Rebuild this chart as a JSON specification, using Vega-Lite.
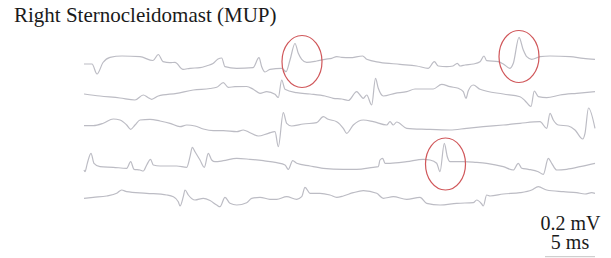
{
  "$schema": "https://vega.github.io/schema/vega-lite/v6.json",
  "width": 611,
  "height": 258,
  "padding": 0,
  "autosize": {"type": "none"},
  "background": "white",
  "config": {"view": {"stroke": null}},
  "datasets": {
    "traces": [
      {"trace":1,"x":84,"y":64},{"trace":1,"x":92,"y":64},{"trace":1,"x":97,"y":74},{"trace":1,"x":103,"y":62.5},{"trace":1,"x":110,"y":57.3},{"trace":1,"x":122,"y":56},{"trace":1,"x":140,"y":56.7},{"trace":1,"x":153,"y":60.5},{"trace":1,"x":158.3,"y":54.5},{"trace":1,"x":163,"y":61.7},{"trace":1,"x":170,"y":62.7},{"trace":1,"x":175,"y":62.3},{"trace":1,"x":183,"y":69.3},{"trace":1,"x":190,"y":68.3},{"trace":1,"x":200,"y":67.7},{"trace":1,"x":207,"y":65.7},{"trace":1,"x":213,"y":63.5},{"trace":1,"x":218,"y":59},{"trace":1,"x":221.7,"y":58},{"trace":1,"x":225,"y":66.7},{"trace":1,"x":236.7,"y":68.3},{"trace":1,"x":253,"y":67.7},{"trace":1,"x":259,"y":57.7},{"trace":1,"x":261.7,"y":66.7},{"trace":1,"x":265,"y":72},{"trace":1,"x":270,"y":69.3},{"trace":1,"x":281.7,"y":68.3},{"trace":1,"x":286,"y":71.7},{"trace":1,"x":290,"y":60},{"trace":1,"x":295,"y":43.5},{"trace":1,"x":298.3,"y":53.3},{"trace":1,"x":301.7,"y":59.3},{"trace":1,"x":306.7,"y":62.3},{"trace":1,"x":316.7,"y":61},{"trace":1,"x":325,"y":59.3},{"trace":1,"x":331.7,"y":58.3},{"trace":1,"x":336.7,"y":56.7},{"trace":1,"x":341.7,"y":57.3},{"trace":1,"x":350,"y":57.7},{"trace":1,"x":362.7,"y":56},{"trace":1,"x":366.7,"y":59.3},{"trace":1,"x":380,"y":62.3},{"trace":1,"x":400,"y":64.3},{"trace":1,"x":416.7,"y":66},{"trace":1,"x":428.3,"y":68.3},{"trace":1,"x":434.3,"y":61.7},{"trace":1,"x":438.3,"y":66},{"trace":1,"x":446.7,"y":66.7},{"trace":1,"x":453,"y":66},{"trace":1,"x":457.3,"y":63.3},{"trace":1,"x":460,"y":66},{"trace":1,"x":465,"y":65},{"trace":1,"x":473.3,"y":64},{"trace":1,"x":480,"y":61.7},{"trace":1,"x":484,"y":56},{"trace":1,"x":486.7,"y":60.7},{"trace":1,"x":498.3,"y":61.7},{"trace":1,"x":503.3,"y":64},{"trace":1,"x":510,"y":68.3},{"trace":1,"x":513.3,"y":63.3},{"trace":1,"x":519,"y":37.3},{"trace":1,"x":523.3,"y":50},{"trace":1,"x":526.7,"y":56.7},{"trace":1,"x":531.7,"y":59.3},{"trace":1,"x":540,"y":56.7},{"trace":1,"x":550,"y":56},{"trace":1,"x":570,"y":56.7},{"trace":1,"x":583.3,"y":58.3},{"trace":1,"x":595,"y":59.3},

      {"trace":2,"x":84,"y":94},{"trace":2,"x":100,"y":96},{"trace":2,"x":120,"y":98},{"trace":2,"x":135,"y":100},{"trace":2,"x":143.3,"y":95},{"trace":2,"x":148.3,"y":97.7},{"trace":2,"x":151.7,"y":99.3},{"trace":2,"x":158.3,"y":96},{"trace":2,"x":176.7,"y":93.3},{"trace":2,"x":193.3,"y":90},{"trace":2,"x":210,"y":88.5},{"trace":2,"x":216.7,"y":87.3},{"trace":2,"x":223.3,"y":82.7},{"trace":2,"x":228.3,"y":87.3},{"trace":2,"x":235,"y":86.7},{"trace":2,"x":246.7,"y":86.5},{"trace":2,"x":253.3,"y":89.3},{"trace":2,"x":260,"y":93.3},{"trace":2,"x":266.7,"y":91.7},{"trace":2,"x":275,"y":94.3},{"trace":2,"x":278.3,"y":97.5},{"trace":2,"x":281.7,"y":80},{"trace":2,"x":285,"y":89.3},{"trace":2,"x":296.7,"y":92.7},{"trace":2,"x":310,"y":94},{"trace":2,"x":325,"y":96},{"trace":2,"x":333.3,"y":98.3},{"trace":2,"x":341.7,"y":99},{"trace":2,"x":348.3,"y":100.5},{"trace":2,"x":356.7,"y":91.7},{"trace":2,"x":360,"y":95},{"trace":2,"x":363.3,"y":98.3},{"trace":2,"x":366.7,"y":95},{"trace":2,"x":371.7,"y":105},{"trace":2,"x":375.5,"y":78.3},{"trace":2,"x":378.3,"y":88.3},{"trace":2,"x":383.3,"y":96},{"trace":2,"x":395,"y":93.3},{"trace":2,"x":406.7,"y":91.7},{"trace":2,"x":415,"y":89},{"trace":2,"x":433.3,"y":89},{"trace":2,"x":441.7,"y":84.3},{"trace":2,"x":450,"y":86.7},{"trace":2,"x":458.3,"y":88.3},{"trace":2,"x":463.3,"y":91.7},{"trace":2,"x":466,"y":98.3},{"trace":2,"x":468.3,"y":90.7},{"trace":2,"x":473.3,"y":85},{"trace":2,"x":480,"y":89.3},{"trace":2,"x":503.3,"y":94},{"trace":2,"x":520,"y":96.7},{"trace":2,"x":525,"y":100.7},{"trace":2,"x":531,"y":106.5},{"trace":2,"x":534.3,"y":91},{"trace":2,"x":538.3,"y":96.7},{"trace":2,"x":546.7,"y":97.7},{"trace":2,"x":560,"y":95},{"trace":2,"x":576.7,"y":93.3},{"trace":2,"x":595,"y":91.7},

      {"trace":3,"x":84,"y":125.7},{"trace":3,"x":93.3,"y":125.7},{"trace":3,"x":103.3,"y":123.3},{"trace":3,"x":113.3,"y":119},{"trace":3,"x":120,"y":120},{"trace":3,"x":126.7,"y":125},{"trace":3,"x":130.7,"y":129.3},{"trace":3,"x":135,"y":125},{"trace":3,"x":140,"y":120},{"trace":3,"x":150,"y":119.3},{"trace":3,"x":160,"y":121},{"trace":3,"x":170,"y":123.3},{"trace":3,"x":180,"y":126.7},{"trace":3,"x":186.7,"y":125},{"trace":3,"x":195,"y":126},{"trace":3,"x":203.3,"y":129},{"trace":3,"x":213.3,"y":130.7},{"trace":3,"x":223.3,"y":130.7},{"trace":3,"x":236.7,"y":131.7},{"trace":3,"x":243.3,"y":130},{"trace":3,"x":250,"y":132.7},{"trace":3,"x":258.3,"y":136},{"trace":3,"x":268.3,"y":133.3},{"trace":3,"x":275,"y":131.7},{"trace":3,"x":278.3,"y":146.7},{"trace":3,"x":283.3,"y":112.7},{"trace":3,"x":286.7,"y":123.3},{"trace":3,"x":291.7,"y":126},{"trace":3,"x":303.3,"y":124},{"trace":3,"x":316.7,"y":122.7},{"trace":3,"x":323.3,"y":116.7},{"trace":3,"x":328.3,"y":119.3},{"trace":3,"x":336.7,"y":121.7},{"trace":3,"x":343.3,"y":128.3},{"trace":3,"x":346.7,"y":133.3},{"trace":3,"x":353.3,"y":125},{"trace":3,"x":363.3,"y":120},{"trace":3,"x":373.3,"y":121.7},{"trace":3,"x":386.7,"y":125},{"trace":3,"x":390,"y":121.7},{"trace":3,"x":393.3,"y":125},{"trace":3,"x":396.7,"y":122},{"trace":3,"x":406.7,"y":128.3},{"trace":3,"x":426.7,"y":129.3},{"trace":3,"x":450,"y":130},{"trace":3,"x":466.7,"y":128.3},{"trace":3,"x":483.3,"y":126.7},{"trace":3,"x":503.3,"y":125},{"trace":3,"x":520,"y":123.3},{"trace":3,"x":540,"y":121.7},{"trace":3,"x":546.7,"y":128.3},{"trace":3,"x":550,"y":113.3},{"trace":3,"x":553.3,"y":120},{"trace":3,"x":558.3,"y":125},{"trace":3,"x":568.3,"y":126},{"trace":3,"x":575,"y":130},{"trace":3,"x":582.7,"y":139},{"trace":3,"x":585,"y":133.3},{"trace":3,"x":588.5,"y":108},{"trace":3,"x":595,"y":128.3},

      {"trace":4,"x":84,"y":170},{"trace":4,"x":85,"y":171.7},{"trace":4,"x":87.3,"y":163.3},{"trace":4,"x":91,"y":153.3},{"trace":4,"x":94,"y":163.3},{"trace":4,"x":100,"y":166.7},{"trace":4,"x":113.3,"y":167.3},{"trace":4,"x":126.7,"y":168.3},{"trace":4,"x":130.7,"y":161.7},{"trace":4,"x":134,"y":169.3},{"trace":4,"x":140,"y":170},{"trace":4,"x":143.3,"y":171},{"trace":4,"x":146.7,"y":165},{"trace":4,"x":150.5,"y":159.3},{"trace":4,"x":153.3,"y":165},{"trace":4,"x":160,"y":166},{"trace":4,"x":176.7,"y":166},{"trace":4,"x":186.7,"y":167.3},{"trace":4,"x":190,"y":156.7},{"trace":4,"x":192.3,"y":147.3},{"trace":4,"x":195,"y":151.7},{"trace":4,"x":200,"y":160},{"trace":4,"x":204.3,"y":167.3},{"trace":4,"x":208.3,"y":153.3},{"trace":4,"x":211.7,"y":160},{"trace":4,"x":215,"y":161.7},{"trace":4,"x":223.3,"y":160.7},{"trace":4,"x":236.7,"y":158.3},{"trace":4,"x":250,"y":159.3},{"trace":4,"x":263.3,"y":160.7},{"trace":4,"x":276.7,"y":162.7},{"trace":4,"x":285,"y":165},{"trace":4,"x":288.3,"y":169.3},{"trace":4,"x":292.7,"y":160.7},{"trace":4,"x":296.7,"y":163.3},{"trace":4,"x":310,"y":166},{"trace":4,"x":323.3,"y":168.3},{"trace":4,"x":343.3,"y":169.3},{"trace":4,"x":356.7,"y":169.3},{"trace":4,"x":373.3,"y":167.3},{"trace":4,"x":378.3,"y":166.7},{"trace":4,"x":380,"y":160},{"trace":4,"x":382.7,"y":158.3},{"trace":4,"x":385,"y":163.3},{"trace":4,"x":390,"y":163.3},{"trace":4,"x":406.7,"y":161.7},{"trace":4,"x":423.3,"y":159.3},{"trace":4,"x":430,"y":160},{"trace":4,"x":436.7,"y":163.3},{"trace":4,"x":440,"y":171.7},{"trace":4,"x":444.3,"y":143.3},{"trace":4,"x":447.3,"y":156.7},{"trace":4,"x":450,"y":161.7},{"trace":4,"x":463.3,"y":161.7},{"trace":4,"x":475,"y":162.3},{"trace":4,"x":486.7,"y":163.3},{"trace":4,"x":503.3,"y":166.7},{"trace":4,"x":513.3,"y":170},{"trace":4,"x":518.3,"y":163.3},{"trace":4,"x":521.7,"y":168.3},{"trace":4,"x":528.3,"y":169.3},{"trace":4,"x":538.3,"y":171.7},{"trace":4,"x":543.3,"y":174.3},{"trace":4,"x":548.3,"y":158.3},{"trace":4,"x":551.7,"y":163.3},{"trace":4,"x":556.7,"y":170},{"trace":4,"x":566.7,"y":169.3},{"trace":4,"x":580,"y":166.7},{"trace":4,"x":595,"y":163.3},

      {"trace":5,"x":84,"y":198.3},{"trace":5,"x":93.3,"y":197.3},{"trace":5,"x":106.7,"y":196},{"trace":5,"x":116.7,"y":193.3},{"trace":5,"x":121.7,"y":190},{"trace":5,"x":126.7,"y":191.7},{"trace":5,"x":146.7,"y":193.3},{"trace":5,"x":166.7,"y":195},{"trace":5,"x":173.3,"y":196.7},{"trace":5,"x":178.3,"y":201.7},{"trace":5,"x":180,"y":206},{"trace":5,"x":183.3,"y":196.7},{"trace":5,"x":185,"y":190},{"trace":5,"x":188.3,"y":195},{"trace":5,"x":195,"y":200},{"trace":5,"x":203.3,"y":198.3},{"trace":5,"x":210,"y":200.5},{"trace":5,"x":216.7,"y":205},{"trace":5,"x":220,"y":206.7},{"trace":5,"x":225,"y":197.3},{"trace":5,"x":230,"y":203.3},{"trace":5,"x":236.7,"y":205},{"trace":5,"x":246.7,"y":202.7},{"trace":5,"x":251.7,"y":198.3},{"trace":5,"x":260,"y":197.3},{"trace":5,"x":270,"y":199.3},{"trace":5,"x":276.7,"y":199.3},{"trace":5,"x":286.7,"y":196.7},{"trace":5,"x":296.7,"y":199.3},{"trace":5,"x":301.7,"y":196.7},{"trace":5,"x":305,"y":187.3},{"trace":5,"x":310,"y":193.3},{"trace":5,"x":320,"y":193.3},{"trace":5,"x":330,"y":195},{"trace":5,"x":336.7,"y":197.3},{"trace":5,"x":343.3,"y":196},{"trace":5,"x":353.3,"y":192.7},{"trace":5,"x":363.3,"y":190.7},{"trace":5,"x":376.7,"y":193.3},{"trace":5,"x":383.3,"y":198.3},{"trace":5,"x":393.3,"y":196.7},{"trace":5,"x":406.7,"y":199.3},{"trace":5,"x":420,"y":197.3},{"trace":5,"x":426.7,"y":203.3},{"trace":5,"x":440,"y":205},{"trace":5,"x":456.7,"y":203.3},{"trace":5,"x":473.3,"y":202.7},{"trace":5,"x":476.7,"y":200},{"trace":5,"x":481.7,"y":204},{"trace":5,"x":483.3,"y":206},{"trace":5,"x":486.7,"y":195},{"trace":5,"x":490,"y":196},{"trace":5,"x":503.3,"y":194},{"trace":5,"x":520,"y":192.7},{"trace":5,"x":531.7,"y":190},{"trace":5,"x":538.3,"y":186.7},{"trace":5,"x":546.7,"y":190},{"trace":5,"x":563.3,"y":191.7},{"trace":5,"x":576.7,"y":192.7},{"trace":5,"x":585,"y":194},{"trace":5,"x":591.7,"y":192.7},{"trace":5,"x":595,"y":193.3}
    ],
    "circles": [
      {"x":302,"y":61.5},
      {"x":519,"y":56.5},
      {"x":445.5,"y":164}
    ],
    "title": [
      {"x":14,"y":21.5,"text":"Right Sternocleidomast (MUP)"}
    ],
    "scaleLabels": [
      {"x":570.5,"y":230,"text":"0.2 mV"},
      {"x":570,"y":249,"text":"5 ms"}
    ],
    "bar": [
      {"x":545,"x2":595,"y":256.7}
    ]
  },
  "encoding": {
    "x": {"field":"x","type":"quantitative","scale":{"domain":[0,611]},"axis":null},
    "y": {"field":"y","type":"quantitative","scale":{"domain":[0,258],"reverse":true},"axis":null}
  },
  "layer": [
    {
      "data": {"name":"traces"},
      "mark": {"type":"line","color":"#bcbcc4","strokeWidth":1.2,"interpolate":"monotone"},
      "encoding": {"detail":{"field":"trace","type":"nominal"}}
    },
    {
      "data": {"name":"circles"},
      "mark": {"type":"point","filled":false,"color":"#d0575a","strokeWidth":1.2,"opacity":1,"size":1600,
        "shape":"M1,0 C1,0.718 0.5523,1.3 0,1.3 C-0.5523,1.3 -1,0.718 -1,0 C-1,-0.718 -0.5523,-1.3 0,-1.3 C0.5523,-1.3 1,-0.718 1,0 Z"}
    },
    {
      "data": {"name":"title"},
      "mark": {"type":"text","font":"Liberation Serif","fontSize":21,"color":"#1a1a1a","baseline":"alphabetic","align":"left"},
      "encoding": {"text":{"field":"text"}}
    },
    {
      "data": {"name":"scaleLabels"},
      "mark": {"type":"text","font":"Liberation Serif","fontSize":20,"color":"#1a1a1a","baseline":"alphabetic","align":"center"},
      "encoding": {"text":{"field":"text"}}
    },
    {
      "data": {"name":"bar"},
      "mark": {"type":"rule","color":"#c4c4c4","strokeWidth":1},
      "encoding": {"x2":{"field":"x2"}}
    }
  ]
}
